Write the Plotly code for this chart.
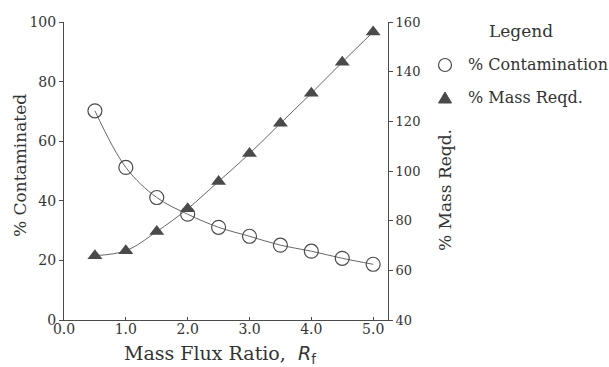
import plotly.graph_objects as go

ratio = [0.5, 1.0, 1.5, 2.0, 2.5, 3.0, 3.5, 4.0, 4.5, 5.0]
contaminated = [70.2, 51.2, 41.1, 35.5, 31.1, 28.1, 25.1, 23.1, 20.7, 18.7]
mass_reqd = [65.9, 67.9, 75.6, 84.8, 95.8, 107.0, 119.2, 131.3, 143.8, 156.0]
x_ticks = [0.0, 1.0, 2.0, 3.0, 4.0, 5.0]
left_ticks = [0, 20, 40, 60, 80, 100]
right_ticks = [40, 60, 80, 100, 120, 140, 160]
legend_labels = ["% Contamination", "% Mass Reqd."]

INK = "#4a4a4a"
FONT = "DejaVu Serif, serif"
W, H = 609, 367
PL, PR, PT, PB = 64, 388, 22, 320
PW, PH = PR - PL, PB - PT


def px(x):
    return (x - PL) / PW


def py(y):
    return (PB - y) / PH


fig = go.Figure()
fig.add_trace(go.Scatter(
    x=ratio, y=contaminated, mode="lines+markers", line=dict(color="#666", width=1, shape="spline"),
    marker=dict(symbol="circle-open", size=14, color=INK, line=dict(width=1.2, color=INK)),
    showlegend=False, yaxis="y"))
fig.add_trace(go.Scatter(
    x=ratio, y=mass_reqd, mode="lines+markers", line=dict(color="#666", width=1, shape="spline"),
    marker=dict(symbol="triangle-up", size=13, color=INK),
    showlegend=False, yaxis="y2"))

shapes = [
    dict(type="circle", xref="paper", yref="paper", xsizemode="pixel", ysizemode="pixel",
         xanchor=px(445), yanchor=py(65), x0=-6.5, x1=6.5, y0=-6.5, y1=6.5,
         line=dict(color=INK, width=1.2), fillcolor="rgba(0,0,0,0)"),
    dict(type="path", xref="paper", yref="paper", xsizemode="pixel", ysizemode="pixel",
         xanchor=px(445), yanchor=py(98), path="M -6.5,-5 L 6.5,-5 L 0,6 Z",
         line=dict(color=INK, width=1), fillcolor=INK),
]

annotations = [
    dict(text="Mass Flux Ratio,  <span style='font-family:DejaVu Sans'><i>R</i><sub>f</sub></span>",
         xref="paper", yref="paper", x=px(122), y=py(354), xanchor="left", yanchor="middle",
         showarrow=False, font=dict(size=19)),
    dict(text="% Contaminated", xref="paper", yref="paper", x=px(20), y=py(166),
         xanchor="center", yanchor="middle", textangle=-90, showarrow=False, font=dict(size=17)),
    dict(text="% Mass Reqd.", xref="paper", yref="paper", x=px(445), y=py(190),
         xanchor="center", yanchor="middle", textangle=-90, showarrow=False, font=dict(size=17)),
    dict(text="Legend", xref="paper", yref="paper", x=px(487), y=py(31),
         xanchor="left", yanchor="middle", showarrow=False, font=dict(size=17)),
    dict(text=legend_labels[0], xref="paper", yref="paper", x=px(466), y=py(65),
         xanchor="left", yanchor="middle", showarrow=False, font=dict(size=16)),
    dict(text=legend_labels[1], xref="paper", yref="paper", x=px(466), y=py(97),
         xanchor="left", yanchor="middle", showarrow=False, font=dict(size=16)),
]

fig.update_layout(
    width=W, height=H, margin=dict(l=PL, r=W - PR, t=PT, b=H - PB, pad=0, autoexpand=False),
    paper_bgcolor="white", plot_bgcolor="white", showlegend=False,
    font=dict(family=FONT, size=15, color="#333"),
    xaxis=dict(range=[0, 5.24], tickvals=x_ticks, ticktext=[f"{v:.1f}" for v in x_ticks],
               ticks="inside", ticklen=3, tickcolor=INK, showline=True, linecolor=INK, linewidth=1,
               showgrid=False, zeroline=False, tickfont=dict(size=14), automargin=False,
               ticklabelstandoff=-4),
    yaxis=dict(range=[0, 100], tickvals=left_ticks, ticks="outside", ticklen=4, tickcolor=INK,
               showline=True, linecolor=INK, linewidth=1, showgrid=False, zeroline=False,
               tickfont=dict(size=14), automargin=False),
    yaxis2=dict(range=[40, 160], tickvals=right_ticks, overlaying="y", side="right",
                ticks="outside", ticklen=4, tickcolor=INK, showline=True, linecolor=INK, linewidth=1,
                showgrid=False, zeroline=False, tickfont=dict(size=13), automargin=False),
    shapes=shapes,
    annotations=annotations,
)
fig.write_html("out.html", config={"displayModeBar": False},
               post_script="document.body.style.margin='0';document.body.style.overflow='hidden';")
